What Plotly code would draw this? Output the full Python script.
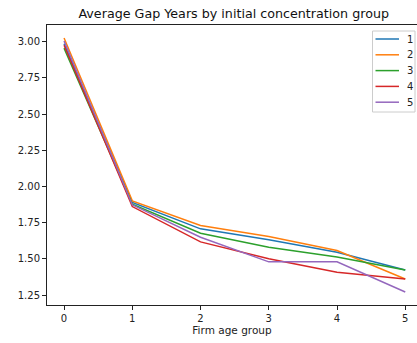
import plotly.graph_objects as go

x_groups = [0, 1, 2, 3, 4, 5]
series_names = ["1", "2", "3", "4", "5"]
s1 = [2.985, 1.889, 1.707, 1.631, 1.546, 1.423]
s2 = [3.025, 1.900, 1.730, 1.654, 1.557, 1.361]
s3 = [2.955, 1.878, 1.677, 1.580, 1.513, 1.423]
s4 = [2.975, 1.861, 1.617, 1.501, 1.407, 1.361]
s5 = [3.005, 1.873, 1.649, 1.479, 1.479, 1.271]
colors = ["#1f77b4", "#ff7f0e", "#2ca02c", "#d62728", "#9467bd"]
y_ticks = [1.25, 1.50, 1.75, 2.00, 2.25, 2.50, 2.75, 3.00]

W, H = 417, 343
ML, MR, MT, MB = 47, 0, 25, 38
PW, PH = W - ML - MR, H - MT - MB


def px(xp):
    return (xp - ML) / PW


def py(yp):
    return 1 - (yp - MT) / PH


FONT = "DejaVu Sans"
fig = go.Figure()
for name, ys, c in zip(series_names, [s1, s2, s3, s4, s5], colors):
    fig.add_trace(go.Scatter(x=x_groups, y=ys, mode="lines", name=name,
                             line=dict(color=c, width=1.5), showlegend=False))

# custom legend (matplotlib style)
shapes = [dict(type="rect", xref="paper", yref="paper",
               x0=px(372.5), x1=px(415), y0=py(112), y1=py(31),
               line=dict(color="#cccccc", width=1), fillcolor="rgba(255,255,255,0.8)",
               layer="above")]
annotations = []
for i, (name, c) in enumerate(zip(series_names, colors)):
    yc = 39 + i * 15.8
    shapes.append(dict(type="line", xref="paper", yref="paper",
                       x0=px(375.5), x1=px(399), y0=py(yc), y1=py(yc),
                       line=dict(color=c, width=1.5), layer="above"))
    annotations.append(dict(text=name, xref="paper", yref="paper", x=px(405), y=py(yc),
                            xanchor="left", yanchor="middle", showarrow=False,
                            font=dict(family=FONT, size=10, color="#222")))

fig.update_layout(
    width=W, height=H,
    margin=dict(l=ML, r=MR, t=MT, b=MB, autoexpand=False),
    paper_bgcolor="white", plot_bgcolor="white",
    font=dict(family=FONT, size=10, color="#222"),
    title=dict(text="Average Gap Years by initial concentration group",
               x=0.5605, xanchor="center", y=1 - 14 / H, yanchor="middle",
               font=dict(family=FONT, size=12.7, color="#111")),
    showlegend=False,
    shapes=shapes,
    annotations=annotations,
)
fig.update_xaxes(range=[-0.25, 5.172], tickvals=x_groups, ticktext=[str(v) for v in x_groups],
                 showgrid=False, zeroline=False, showline=True, linecolor="#222", linewidth=1,
                 mirror=True, ticks="outside", ticklen=4, tickcolor="#222", automargin=False,
                 title=dict(text="Firm age group", font=dict(family=FONT, size=10.5, color="#222"), standoff=3))
fig.update_yaxes(range=[1.181, 3.115], tickvals=y_ticks, ticktext=[f"{v:.2f}" for v in y_ticks],
                 showgrid=False, zeroline=False, showline=True, linecolor="#222", linewidth=1,
                 mirror=False, ticks="outside", ticklen=4, tickcolor="#222", automargin=False)

fig.write_html("out.html", config={"displayModeBar": False},
               post_script="document.body.style.margin='0';document.body.style.overflow='hidden';")
